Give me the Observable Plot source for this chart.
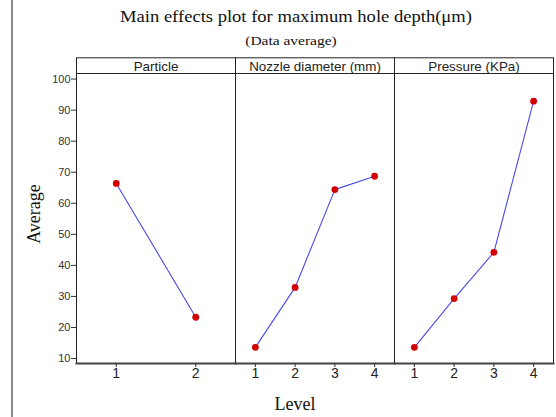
<!DOCTYPE html>
<html>
<head>
<meta charset="utf-8">
<script src="https://cdn.jsdelivr.net/npm/d3@7"></script>
<script src="https://cdn.jsdelivr.net/npm/@observablehq/plot@0.6"></script>
<style>
  html, body { margin: 0; padding: 0; background: #fff; }
  #wrap { position: relative; width: 556px; height: 417px; overflow: hidden; }
  #wrap svg { position: absolute; left: 0; top: 0; }
  .lbl { position: absolute; white-space: nowrap; font-family: "Liberation Serif", "Times New Roman", serif; color: #111; line-height: 1; }
  #bar { position: absolute; left: 11px; top: 0; width: 2px; height: 417px; background: #8a8a8a; }
</style>
</head>
<body>
<div id="wrap">
  <div id="bar"></div>
</div>
<script>
// ---- data ----
const factors = ["Particle", "Nozzle diameter (mm)", "Pressure (KPa)"];
const particleLevels = [1, 2];
const particleMeans = [66.4, 23.3];
const nozzleLevels = [1, 2, 3, 4];
const nozzleMeans = [13.6, 32.9, 64.4, 68.7];
const pressureLevels = [1, 2, 3, 4];
const pressureMeans = [13.6, 29.3, 44.2, 92.9];
const yTicks = [10, 20, 30, 40, 50, 60, 70, 80, 90, 100];
const titleText = "Main effects plot for maximum hole depth(\u03bcm)";
const subtitleText = "(Data average)";
const xLabel = "Level";
const yLabel = "Average";

// Particle has 2 levels spread across the same panel width as 4-level factors
const levelPos = (factor, level) => factor === "Particle" ? 2 * level - 0.5 : level;

const series = [
  [factors[0], particleLevels, particleMeans],
  [factors[1], nozzleLevels, nozzleMeans],
  [factors[2], pressureLevels, pressureMeans]
];
const data = series.flatMap(([f, lv, m]) => lv.map((l, i) => ({factor: f, level: l, pos: levelPos(f, l), mean: m[i]})));
const tickData = series.flatMap(([f, lv]) => lv.map(l => ({factor: f, label: String(l), pos: levelPos(f, l)})));

const sans = "'Liberation Sans', Arial, sans-serif";
const plotH = 417 - 73 - 54;

const chart = Plot.plot({
  width: 556,
  height: 417,
  marginTop: 73,
  marginBottom: 54,
  marginLeft: 76,
  marginRight: 3,
  style: {fontFamily: sans, fontSize: "11px", color: "#333", background: "transparent", overflow: "visible"},
  fx: {domain: factors, padding: 0, axis: null, label: null},
  x: {domain: [0.5, 4.5], axis: null},
  y: {domain: [8.4, 101.8], ticks: yTicks, tickSize: 5, tickPadding: 1, label: null, line: true},
  marks: [
    Plot.frame({stroke: "#222", strokeWidth: 1, insetTop: -15.7}),
    Plot.frame({stroke: "#222", strokeWidth: 1}),
    Plot.frame({anchor: "bottom", stroke: "#444", strokeWidth: 2}),
    Plot.text(factors, {fx: d => d, text: d => d, frameAnchor: "top", lineAnchor: "bottom", dy: -2.4,
      fontFamily: sans, fontSize: 13.4, fill: "#222"}),
    Plot.ruleX(tickData, {fx: "factor", x: "pos", insetTop: plotH, insetBottom: -4, stroke: "#333"}),
    Plot.text(tickData, {fx: "factor", x: "pos", text: "label", frameAnchor: "bottom", lineAnchor: "top", dy: 5,
      fontFamily: sans, fontSize: 14, fill: "#222"}),
    Plot.line(data, {fx: "factor", x: "pos", y: "mean", stroke: "#4a4ae6", strokeWidth: 1.1}),
    Plot.dot(data, {fx: "factor", x: "pos", y: "mean", r: 3.4, fill: "#d40000", stroke: null})
  ]
});
const wrap = document.getElementById("wrap");
wrap.appendChild(chart);
// thicken the y axis line to match the heavier left edge
chart.querySelectorAll("[aria-label='y-axis line'] path, [aria-label='y-axis line'] line").forEach(e => e.setAttribute("stroke-width", 2));

function addLabel(text, css) {
  const d = document.createElement("div");
  d.className = "lbl";
  d.textContent = text;
  Object.assign(d.style, css);
  wrap.appendChild(d);
}
addLabel(titleText, {left: "296px", top: "8.5px", fontSize: "16px", transform: "translateX(-50%) scaleX(1.16)"});
addLabel(subtitleText, {left: "291px", top: "34.5px", fontSize: "12px", transform: "translateX(-50%) scaleX(1.29)"});
addLabel(xLabel, {left: "295px", top: "395px", fontSize: "18px", transform: "translateX(-50%)"});
addLabel(yLabel, {left: "34px", top: "214px", fontSize: "18px", transform: "translate(-50%, -50%) rotate(-90deg)"});
</script>
</body>
</html>
